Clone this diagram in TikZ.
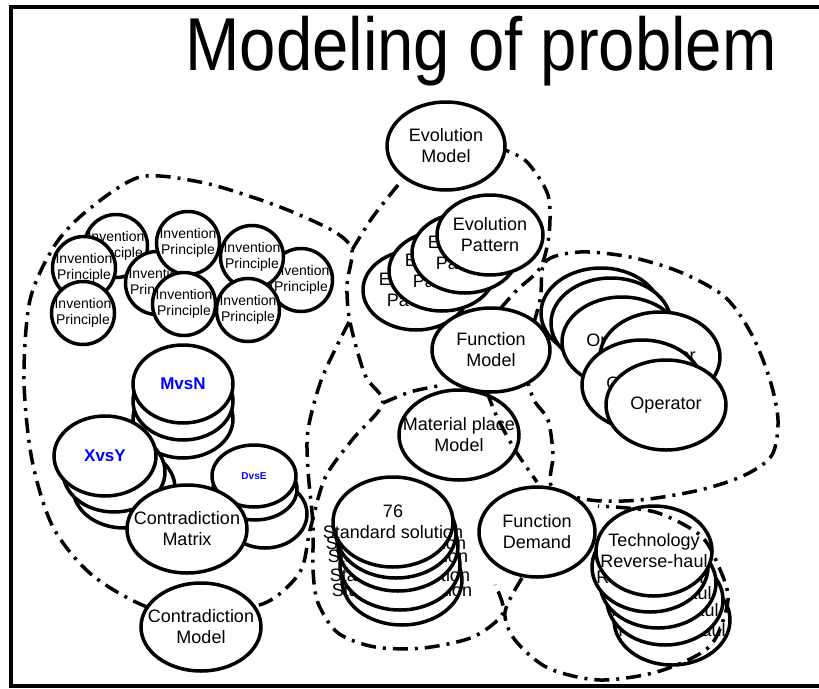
\documentclass[tikz,border=0pt]{standalone}
\usepackage{fontspec}
\setmainfont{Liberation Sans}
\usetikzlibrary{shapes.geometric,positioning}
\newcommand{\nodetext}[2]{\makebox[0pt]{#1}\\\makebox[0pt]{#2}}
\tikzset{%
	model/.style     = {draw, ellipse, fill=white, line width=3.5pt, inner sep=0pt, minimum width=120pt, minimum height=88pt, align=center, font=\fontsize{18}{21}\selectfont},
	evostack/.style  = {model, minimum width=106pt, minimum height=80pt}, % Evolution Pattern
	principle/.style = {draw, circle, fill=white, line width=3.5pt, inner sep=0pt, minimum size=63pt, align=center, font=\fontsize{14}{15.5}\selectfont},
	conflict/.style  = {model, minimum width=100pt, minimum height=78pt, text=blue, font=\fontsize{17}{18}\selectfont\bfseries},
	boundary/.style  = {line width=3.5pt, dash pattern=on 15pt off 7pt on 3pt off 7pt},
}

\begin{document}
\begin{tikzpicture}[x=1pt,y=-1pt]
	\useasboundingbox (0,0) rectangle (819,688);
	\draw[line width=4pt] (825,6.5) -- (11,6.5) -- (11,686) -- (825,686);
	\node[font=\fontsize{75}{80}\selectfont, anchor=base] (title) at (481,70) {\scalebox{0.87}[1]{Modeling of problem}};
	
	% regions
	\draw[boundary] plot[smooth cycle] coordinates {(150,608) (92,575) (53,527) (32,460) (24,380) (30,300) (55,245) (88,210) (140,177) (200,182) (255,198) (295,213) (335,232) (352,250) (347,285) (350,322) (365,375) (383,403) (352,440) (325,478) (310,530) (300,572) (265,603) (205,612)};
	\draw[boundary] plot[smooth] coordinates {(383,403) (410,392) (438,386)};
	\draw[boundary] plot[smooth] coordinates {(500,309) (517,290) (540,268) (549,235) (548,195) (527,162) (505,150)};
	\draw[boundary] plot[smooth] coordinates {(398,185) (372,218) (352,250)};
	\draw[boundary] plot[smooth cycle] coordinates {(540,300) (545,262) (580,252) (630,257) (680,272) (725,297) (752,335) (770,380) (778,420) (772,455) (745,475) (700,490) (640,500) (590,500) (552,487) (553,455) (548,420) (533,398) (525,360)};
	\draw[boundary] plot[smooth] coordinates {(349,322) (322,378) (308,430) (308,470) (313,525) (313,570) (318,603) (338,633) (375,647) (423,648) (473,637) (503,613) (495,585)};
	
	% invention principles
	\node[principle] (ip1) at (116,246) {\nodetext{Invention}{Principle}};
	\node[principle] (ip2) at (84,268) {\nodetext{Invention}{Principle}};
	\node[principle] (ip3) at (83,313) {\nodetext{Invention}{Principle}};
	\node[principle] (ip4) at (157,283) {\nodetext{Invention}{Principle}};
	\node[principle] (ip5) at (188,243) {\nodetext{Invention}{Principle}};
	\node[principle] (ip6) at (184,304) {\nodetext{Invention}{Principle}};
	\node[principle] (ip8) at (301,280) {\nodetext{Invention}{Principle}};
	\node[principle] (ip7) at (252,257) {\nodetext{Invention}{Principle}};
	\node[principle] (ip9) at (248,310) {\nodetext{Invention}{Principle}};
	
	% contradiction
	\node[conflict] (mn3) at (183,419) {};
	\node[conflict] (mn2) at (183,401) {};
	\node[conflict] (mn1) at (183,384) {MvsN};
	\node[conflict, minimum width=102pt, minimum height=80pt] (xy3) at (124,488) {};
	\node[conflict, minimum width=102pt, minimum height=80pt] (xy2) at (114,472) {};
	\node[conflict, minimum width=102pt, minimum height=80pt] (xy1) at (105,456) {XvsY};
	\node[conflict, minimum width=84pt, minimum height=68pt] (de3) at (265,514) {};
	\node[conflict, minimum width=84pt, minimum height=62pt] (de2) at (255,489) {};
	\node[conflict, minimum width=84pt, minimum height=62pt, font=\fontsize{10}{11}\selectfont\bfseries] (de1) at (254,476) {DvsE};
	\node[model] (matrix) at (187,529) {\nodetext{Contradiction}{Matrix}};
	\node[model] (contra) at (201,627) {\nodetext{Contradiction}{Model}};
	
	% evolution
	\node[model, minimum width=118pt] (evo) at (446,146) {\nodetext{Evolution}{Model}};
	\node[evostack] (ep4) at (416,290) {\nodetext{Evolution}{Pattern}};
	\node[evostack] (ep3) at (442,271) {\nodetext{Evolution}{Pattern}};
	\node[evostack] (ep2) at (465,253) {\nodetext{Evolution}{Pattern}};
	\node[evostack] (ep1) at (490,235) {\nodetext{Evolution}{Pattern}};
	\node[model, minimum width=118pt, minimum height=84pt] (func) at (491,350) {\nodetext{Function}{Model}};
	
	% operators
	\node[model, minimum height=90pt] (op1) at (601,313) {Operator};
	\node[model, minimum height=90pt] (op2) at (611,323) {Operator};
	\node[model, minimum height=90pt] (op3) at (622,342) {Operator};
	\node[model, minimum height=90pt] (op4) at (660,357) {Operator};
	\node[model, minimum height=90pt] (op5) at (642,385) {Operator};
	\node[model, minimum height=90pt] (op6) at (666,405) {Operator};
	
	\node[model, minimum height=90pt] (place) at (459,435) {\nodetext{Material place}{Model}};
	\node[model, minimum width=116pt, minimum height=90pt] (demand) at (537,532) {\nodetext{Function}{Demand}};
	
	% standard solutions
	\node[model, minimum height=90pt] (std5) at (402,580) {\nodetext{76}{Standard solution}};
	\node[model, minimum height=90pt] (std4) at (400,565) {\nodetext{76}{Standard solution}};
	\node[model, minimum height=90pt] (std3) at (398,546) {\nodetext{76}{Standard solution}};
	\node[model, minimum height=90pt] (std2) at (396,533) {\nodetext{76}{Standard solution}};
	\node[model, minimum height=90pt] (std1) at (393,522) {\nodetext{76}{Standard solution}};
	
	% technology reverse-haul
	\node[model, minimum width=116pt, minimum height=90pt] (tech5) at (672,620) {\nodetext{Technology}{Reverse-haul}};
	\node[model, minimum width=116pt, minimum height=90pt] (tech4) at (665,600) {\nodetext{Technology}{Reverse-haul}};
	\node[model, minimum width=116pt, minimum height=90pt] (tech3) at (658,583) {\nodetext{Technology}{Reverse-haul}};
	\node[model, minimum width=116pt, minimum height=90pt] (tech2) at (650,567) {\nodetext{Technology}{Reverse-haul}};
	\node[model, minimum width=116pt, minimum height=90pt] (tech1) at (654,551) {\nodetext{Technology}{Reverse-haul}};
	
	% lines drawn over the nodes
	\draw[boundary] plot[smooth] coordinates {(487,392) (497,417) (515,450) (537,482)};
	\draw[boundary] plot[smooth] coordinates {(522,578) (505,612) (515,640) (548,668) (600,680) (660,671) (710,646) (728,600) (718,565) (700,535) (655,512) (598,506)};
\end{tikzpicture}
\end{document}
